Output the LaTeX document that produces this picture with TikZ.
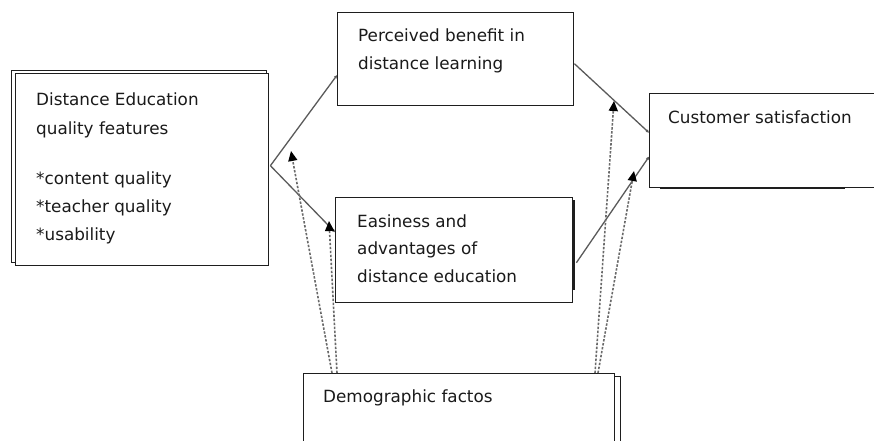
\documentclass[tikz,border=0pt]{standalone}
\usepackage{fontspec}
\setmainfont{DejaVu Sans}
\usetikzlibrary{arrows.meta,calc}
\definecolor{boxline}{HTML}{1E1E1E}
\definecolor{txt}{HTML}{1A1A1A}
\definecolor{linkgray}{HTML}{5A5A5A}
\definecolor{dotgray}{HTML}{6A6A6A}
\begin{document}
\begin{tikzpicture}[x=1pt,y=-1pt,
  box/.style={draw=boxline,line width=1.4pt,fill=white,rectangle,inner sep=0pt,anchor=north west},
  lbl/.style={anchor=base west,inner sep=0pt,font=\fontsize{16.8}{20}\selectfont,text=txt},
  link/.style={draw=linkgray,line width=1.3pt,-{Triangle[length=3pt,width=3pt]}},
  dotlink/.style={draw=dotgray,line width=1.6pt,dash pattern=on 2.4pt off 1.6pt,
    -{Triangle[length=10pt,width=9pt,fill=black,color=black]}},
  shade/.style={fill=boxline,draw=none}
]
\useasboundingbox (0,0) rectangle (874,441);
\clip (0,0) rectangle (874,441);

% Left box: double frame
\node[box,minimum width=255pt,minimum height=192pt] (lftback) at (10.5,70) {};
\node[box,minimum width=253pt,minimum height=192pt] (lft) at (15,73) {};
\node[lbl] (l1) at (36,106) {Distance Education};
\node[lbl] (l2) at (36,134) {quality features};
\node[lbl] (l3) at (36,184) {*content quality};
\node[lbl] (l4) at (36,212) {*teacher quality};
\node[lbl] (l5) at (36,240) {*usability};

% Perceived benefit
\node[box,minimum width=236pt,minimum height=93pt] (tb) at (337,12) {};
\node[lbl] (t1) at (358,42) {Perceived benefit in};
\node[lbl] (t2) at (358,70) {distance learning};

% Easiness and advantages
\fill[shade] (571,200) rectangle (575,290);
\node[box,minimum width=237pt,minimum height=105pt] (mb) at (335,197) {};
\node[lbl] (m1) at (357,227) {Easiness and};
\node[lbl] (m2) at (357,254) {advantages of};
\node[lbl] (m3) at (357,282) {distance education};

% Customer satisfaction
\fill[shade] (660,186) rectangle (845,188.5);
\node[box,minimum width=240pt,minimum height=94pt] (rb) at (649,93) {};
\node[lbl] (r1) at (668,123) {Customer satisfaction};

% Demographic factors, with an offset back frame
\node[box,minimum width=311pt,minimum height=90pt] (bbback) at (309,376) {};
\node[box,minimum width=311pt,minimum height=90pt] (bb) at (303,373) {};
\node[lbl] (b1) at (323,402) {Demographic factos};

% Free ends of the moderating arrows
\coordinate (d1) at (291,151);
\coordinate (d2) at (329,221);
\coordinate (d3) at (614,101);
\coordinate (d4) at (634,171);

% Direct paths
\draw[link] ($(lft.east)+(1,-4)$) -- ($(tb.west)+(0,16)$);
\draw[link] ($(lft.east)+(1,-4)$) -- ($(mb.west)+(0,-18)$);
\draw[link] ($(tb.east)+(0,4.5)$) -- ($(rb.west)+(0,-8)$);
\draw[link] ($(mb.east)+(3,12.5)$) -- ($(rb.west)+(0,16)$);

% Moderating paths
\draw[dotlink] ($(bb.north west)+(29,0)$) -- (d1);
\draw[dotlink] ($(bb.north west)+(34,0)$) -- (d2);
\draw[dotlink] ($(bb.north west)+(292,0)$) -- (d3);
\draw[dotlink] ($(bb.north west)+(295,0)$) -- (d4);
\end{tikzpicture}
\end{document}
